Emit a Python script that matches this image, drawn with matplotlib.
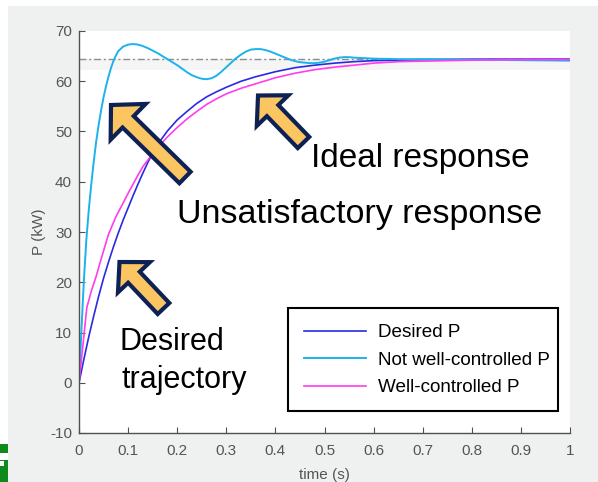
import matplotlib
matplotlib.use('Agg')
import matplotlib.pyplot as plt
from matplotlib.patches import Polygon, Rectangle
import numpy as np

plt.rcParams['font.family'] = ['Liberation Sans', 'DejaVu Sans']
plt.rcParams['axes.unicode_minus'] = False

W, H = 598, 482

t_desired = [0, 0.01, 0.02, 0.03, 0.04, 0.05, 0.06, 0.07, 0.08, 0.09, 0.1, 0.11, 0.12, 0.13,
             0.14, 0.15, 0.16, 0.18, 0.2, 0.22, 0.24, 0.26, 0.28, 0.3, 0.33, 0.36, 0.4, 0.44,
             0.48, 0.52, 0.56, 0.6, 0.65, 0.7, 0.8, 0.9, 1.0]
p_desired = [0, 4.7, 9.2, 13.3, 17.2, 20.8, 24.0, 27.0, 29.8, 32.4, 34.8, 37.2, 39.5, 41.7,
             43.8, 45.7, 47.4, 50.1, 52.3, 54.0, 55.6, 56.9, 57.9, 58.8, 60.0, 60.9, 61.9, 62.7,
             63.2, 63.6, 63.9, 64.1, 64.2, 64.3, 64.4, 64.4, 64.4]

t_bad = [0, 0.005, 0.01, 0.015, 0.02, 0.025, 0.03, 0.035, 0.04, 0.045, 0.05, 0.055, 0.06,
         0.065, 0.07, 0.075, 0.08, 0.09, 0.1, 0.11, 0.12, 0.13, 0.14, 0.15, 0.16, 0.17, 0.18,
         0.19, 0.2, 0.21, 0.22, 0.23, 0.24, 0.25, 0.26, 0.27, 0.28, 0.29, 0.3, 0.31, 0.32,
         0.33, 0.34, 0.35, 0.36, 0.37, 0.38, 0.39, 0.4, 0.41, 0.42, 0.43, 0.44, 0.45, 0.46,
         0.47, 0.48, 0.49, 0.5, 0.51, 0.52, 0.53, 0.54, 0.55, 0.56, 0.58, 0.6, 0.65, 0.7,
         0.8, 0.9, 1.0]
p_bad = [0, 10.5, 20.5, 28.5, 34.5, 39.5, 44.0, 48.0, 51.3, 54.2, 56.8, 59.0, 60.9,
         62.6, 64.0, 65.1, 66.0, 66.9, 67.3, 67.4, 67.3, 67.0, 66.6, 66.1, 65.6, 65.0, 64.4,
         63.8, 63.2, 62.5, 61.8, 61.2, 60.8, 60.5, 60.4, 60.6, 61.1, 61.9, 62.8, 63.7, 64.6,
         65.3, 65.9, 66.3, 66.4, 66.4, 66.2, 65.9, 65.5, 65.1, 64.7, 64.3, 64.0, 63.8, 63.7,
         63.6, 63.6, 63.7, 63.9, 64.2, 64.5, 64.7, 64.8, 64.8, 64.7, 64.6, 64.5, 64.4, 64.4,
         64.3, 64.2, 64.1]

t_good = [0, 0.008, 0.016, 0.025, 0.035, 0.045, 0.06, 0.075, 0.09, 0.1, 0.11, 0.12, 0.13,
          0.14, 0.15, 0.16, 0.18, 0.2, 0.22, 0.24, 0.26, 0.28, 0.3, 0.33, 0.36, 0.4, 0.44,
          0.48, 0.52, 0.56, 0.6, 0.65, 0.7, 0.8, 0.9, 1.0]
p_good = [0, 7.5, 15.0, 18.2, 21.2, 24.6, 29.5, 33.0, 35.8, 37.7, 39.5, 41.3, 43.0,
          44.3, 45.6, 46.8, 48.9, 50.8, 52.5, 54.0, 55.4, 56.5, 57.5, 58.6, 59.5, 60.7, 61.6,
          62.3, 62.8, 63.2, 63.6, 63.9, 64.0, 64.2, 64.3, 64.3]

p_ref = 64.4
labels = ['Desired P', 'Not well-controlled P', 'Well-controlled P']
xticks = [0, 0.1, 0.2, 0.3, 0.4, 0.5, 0.6, 0.7, 0.8, 0.9, 1]
xticklabels = ['0', '0.1', '0.2', '0.3', '0.4', '0.5', '0.6', '0.7', '0.8', '0.9', '1']
yticks = [-10, 0, 10, 20, 30, 40, 50, 60, 70]


def fx(px):
    return px / W


def fy(py):
    return 1 - py / H


fig = plt.figure(figsize=(W / 100, H / 100), dpi=100, facecolor='white')
fig.add_artist(Rectangle((fx(8), 0), 1, fy(6), transform=fig.transFigure,
                         facecolor='#eff0f0', edgecolor='none', zorder=0))
# small green icon cut off at the left edge
fig.add_artist(Rectangle((0, fy(453)), fx(8), 9 / H, transform=fig.transFigure,
                         facecolor='#0f8a1a', edgecolor='none'))
fig.add_artist(Rectangle((0, fy(482)), fx(8), 22 / H, transform=fig.transFigure,
                         facecolor='#0f8a1a', edgecolor='none'))
fig.add_artist(Rectangle((0, fy(466)), fx(4), 5 / H, transform=fig.transFigure,
                         facecolor='white', edgecolor='none'))

ax = fig.add_axes([fx(79), fy(433), 491 / W, 402 / H])
ax.set_facecolor('white')

ax.axhspan(62.2, p_ref, color='#f5f5f5', lw=0, zorder=0)
ref, = ax.plot([0, 1], [p_ref, p_ref], color='#8c8c8c', lw=1)
ref.set_dashes([5, 2, 1.5, 2])
ax.plot(t_desired, p_desired, color='#2a2ae0', lw=1.2, label=labels[0])
ax.plot(t_bad, p_bad, color='#1cb2ea', lw=1.4, label=labels[1])
ax.plot(t_good, p_good, color='#ff3cf0', lw=1.2, label=labels[2])

ax.set_xlim(0, 1)
ax.set_ylim(-10, 70)
ax.set_xticks(xticks)
ax.set_xticklabels(xticklabels)
ax.set_yticks(yticks)
for s in ['top', 'right']:
    ax.spines[s].set_visible(False)
for s in ['left', 'bottom']:
    ax.spines[s].set_color('#505050')
    ax.spines[s].set_linewidth(1.0)
ax.tick_params(axis='both', direction='in', length=4, width=0.8, color='#505050',
               labelcolor='#555555', labelsize=11)
ax.tick_params(axis='x', pad=8)
ax.tick_params(axis='y', pad=5)
ax.set_xlabel('time (s)', fontsize=11, color='#555555', labelpad=7)
ax.set_ylabel('P (kW)', fontsize=11, color='#555555', labelpad=3)

# legend box drawn by hand, the right padding is narrower than the left one
ax.add_patch(Rectangle((fx(288), fy(411)), 270 / W, 103 / H, transform=fig.transFigure,
                       facecolor='white', edgecolor='black', lw=1.5, zorder=4,
                       clip_on=False))
leg = ax.legend(loc='upper left', bbox_to_anchor=(fx(288), fy(308)),
                bbox_transform=fig.transFigure, borderaxespad=0, fontsize=13.6,
                frameon=False, handlelength=3.3,
                handletextpad=0.6, labelspacing=0.55, borderpad=0.85)
leg.set_zorder(5)


def block_arrow(tip, tail, sw, hw, hl):
    tip = np.array(tip, float)
    tail = np.array(tail, float)
    u = (tip - tail) / np.hypot(*(tip - tail))
    n = np.array([-u[1], u[0]])
    neck = tip - hl * u
    pts = [tail + sw / 2 * n, neck + sw / 2 * n, neck + hw / 2 * n, tip,
           neck - hw / 2 * n, neck - sw / 2 * n, tail - sw / 2 * n]
    pts = [(fx(p[0]), fy(p[1])) for p in pts]
    fig.add_artist(Polygon(pts, closed=True, transform=fig.transFigure,
                           facecolor='#fbc561', edgecolor='#0e2155', lw=3,
                           joinstyle='miter', zorder=5))


block_arrow((111, 105), (185, 177.5), 16, 50, 24)
block_arrow((258, 95.5), (303.5, 142.5), 16, 44, 21)
block_arrow((119.5, 262), (163.5, 308.5), 16, 44, 21)

fig.text(fx(311), fy(167), 'Ideal response', fontsize=24, va='baseline', ha='left')
fig.text(fx(177), fy(222.5), 'Unsatisfactory response', fontsize=24.5,
         va='baseline', ha='left')
fig.text(fx(119.5), fy(350), 'Desired', fontsize=22, va='baseline', ha='left')
fig.text(fx(121.5), fy(388), 'trajectory', fontsize=22, va='baseline', ha='left')

fig.savefig('out.png', dpi=100, facecolor=fig.get_facecolor())
